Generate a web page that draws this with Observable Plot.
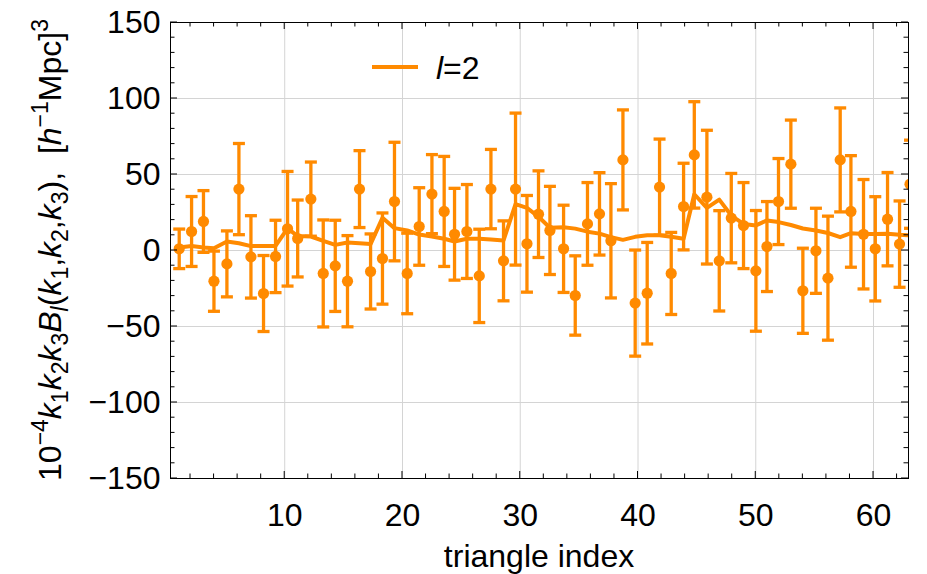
<!DOCTYPE html>
<html><head><meta charset="utf-8">
<script src="https://cdn.jsdelivr.net/npm/d3@7"></script>
<script src="https://cdn.jsdelivr.net/npm/@observablehq/plot@0.6"></script>
<style>
body{margin:0;background:#fff;}
#chart{width:927px;height:574px;}
</style>
</head><body><div id="chart"></div>
<script>
// triangle index positions
const triangleIndex = [1.04,2.09,3.1,3.99,5.09,6.11,7.13,8.2,9.22,10.24,11.1,12.22,13.27,14.29,15.33,16.35,17.29,18.3,19.32,20.4,21.42,22.5,23.54,24.42,25.47,26.52,27.51,28.58,29.6,30.57,31.55,32.52,33.68,34.67,35.71,36.73,37.7,38.72,39.76,40.78,41.83,42.82,43.87,44.78,45.85,46.9,47.92,48.96,50.01,50.95,51.93,52.98,54.0,55.11,56.13,57.17,58.08,59.15,60.15,61.19,62.21,63.1];
// measured bispectrum (l=2) values
const bispectrum = [1.1,12.5,19.1,-20.2,-8.8,40.4,-4.2,-28.3,-3.9,14.3,7.9,33.8,-15.1,-10.1,-20.2,40.4,-13.8,-5.3,32.2,-15.1,15.8,37.1,25.7,10.7,12.5,-16.7,40.4,-6.8,40.4,4.4,23.9,13.2,1.1,-29.6,17.5,24.1,6.4,59.6,-34.6,-28.1,41.7,-15.1,28.9,62.9,35.1,-6.8,21.3,16.4,-13.4,2.6,32.2,56.8,-26.5,-0.2,-18.2,59.6,25.7,10.7,1.1,20.6,4.2,43.6];
// half-length of error bars
const errors = [13,23,20.3,19.8,21.7,30,27.1,25,23.8,37.7,25.3,24.4,35.2,30,30,25.3,24.7,30,39,26.5,25.5,26,36.2,30.2,30.9,30.7,26.1,26.3,50,31.8,28.5,29,28.7,26.1,27.2,27.1,37.6,32.9,34.9,33.4,31.6,27,28.5,35,44,33,29.4,28.3,39.7,29.6,28.3,29,28,28,40.8,34.2,36.7,36,34.3,30.7,28.4,29];
// model curve
const model = [2,2.9,2,1.5,5.9,4.8,2.9,3,3,14.5,9.5,9.2,6.4,3.7,5.3,4.8,4.2,21.5,14.7,13.2,10.5,9.2,7.7,5.9,7.7,7.7,7.2,6.6,30.5,28,22.2,15,15.3,14.4,12.4,11.1,8.8,7,9,10,10,9,7.7,37,28,33.5,23,17.5,16.5,19.8,18.7,16.8,14.5,13.2,11.5,8.8,11.4,10.8,10.8,11,10.3,9.9];

const xTicks = [10,20,30,40,50,60];
const yTicks = [-150,-100,-50,0,50,100,150];
const yGrid = [-100,-50,0,50,100];
const xMinorTicks = [2,4,6,8,12,14,16,18,22,24,26,28,32,34,36,38,42,44,46,48,52,54,56,58,62];
const yMinorTicks = [-140,-130,-120,-110,-90,-80,-70,-60,-40,-30,-20,-10,10,20,30,40,60,70,80,90,110,120,130,140];
const xLabel = "triangle index";
const legendName = "l";
const legendRest = "=2";

const rows = triangleIndex.map((x, i) => ({x, y: bispectrum[i], e: errors[i], m: model[i]}));
const orange = "#ff8a00";
const FONT = "'Liberation Sans', Arial, sans-serif";
const FS = 32;
const capSymbol = {draw(ctx) { ctx.moveTo(-6, 0); ctx.lineTo(6, 0); }};

const plot = Plot.plot({
  width: 927, height: 574,
  marginLeft: 170, marginRight: 19, marginTop: 22, marginBottom: 96,
  style: {fontFamily: FONT, fontSize: FS + "px", color: "#000", background: "#fff"},
  x: {domain: [0.3, 62.97], label: null},
  y: {domain: [-150, 150], label: null},
  marks: [
    Plot.gridX(xTicks, {stroke: "#d4d4d4", strokeOpacity: 1, strokeWidth: 1}),
    Plot.gridY(yGrid, {stroke: "#d4d4d4", strokeOpacity: 1, strokeWidth: 1}),
    Plot.axisX(xTicks, {tickSize: 0, tickPadding: 25, fontSize: FS, anchor: "bottom"}),
    Plot.axisY(yTicks, {tickSize: 0, tickPadding: 10, fontSize: FS, anchor: "left"}),
    Plot.ruleX(rows, {x: "x", y1: d => d.y - d.e, y2: d => d.y + d.e, stroke: orange, strokeWidth: 3.3, clip: true}),
    Plot.dot(rows, {x: "x", y: d => d.y + d.e, symbol: capSymbol, fill: "none", stroke: orange, strokeWidth: 3.3, clip: true}),
    Plot.dot(rows, {x: "x", y: d => d.y - d.e, symbol: capSymbol, fill: "none", stroke: orange, strokeWidth: 3.3, clip: true}),
    Plot.line(rows, {x: "x", y: "m", stroke: orange, strokeWidth: 4, strokeLinejoin: "round", clip: true}),
    Plot.dot(rows, {x: "x", y: "y", r: 5.6, fill: orange, stroke: "none", clip: true}),
    Plot.frame({stroke: "#000", strokeWidth: 1})
  ]
});

document.getElementById("chart").appendChild(plot);

const sx = plot.scale("x"), sy = plot.scale("y");
const svg = d3.select(plot);
const [X0, X1] = sx.range;
const [Y0, Y1] = sy.range; // Y0 bottom, Y1 top
const tg = svg.append("g").attr("stroke", "#000").attr("stroke-width", 1);
function xt(v, len) {
  const px = sx.apply(v);
  tg.append("line").attr("x1", px).attr("x2", px).attr("y1", Y0).attr("y2", Y0 - len);
  tg.append("line").attr("x1", px).attr("x2", px).attr("y1", Y1).attr("y2", Y1 + len);
}
function yt(v, len) {
  const py = sy.apply(v);
  tg.append("line").attr("x1", X0).attr("x2", X0 + len).attr("y1", py).attr("y2", py);
  tg.append("line").attr("x1", X1).attr("x2", X1 - len).attr("y1", py).attr("y2", py);
}
xTicks.forEach(v => xt(v, 7));
xMinorTicks.forEach(v => xt(v, 4.5));
yTicks.forEach(v => yt(v, 7));
yMinorTicks.forEach(v => yt(v, 4.5));

// x-axis title
svg.append("text").attr("x", (X0 + X1) / 2).attr("y", 567)
  .attr("text-anchor", "middle").attr("font-family", FONT).attr("font-size", FS).attr("fill", "#000")
  .text(xLabel);

// y-axis title with sub/superscripts
const parts = [
  ["10", 0, 0], ["\u22124", 0, 1], ["k", 1, 0], ["1", 0, -1], ["k", 1, 0], ["2", 0, -1], ["k", 1, 0], ["3", 0, -1],
  ["B", 1, 0], ["l", 1, -1], ["(", 0, 0], ["k", 1, 0], ["1", 0, -1], [",", 0, 0], ["k", 1, 0], ["2", 0, -1], [",", 0, 0],
  ["k", 1, 0], ["3", 0, -1], ["),\u00a0\u00a0[", 0, 0], ["h", 1, 0], ["\u22121", 0, 1], ["Mpc]", 0, 0], ["3", 0, 1]
];
const yl = svg.append("text").attr("transform", `translate(61,${(Y0 + Y1) / 2}) rotate(-90)`)
  .attr("text-anchor", "middle").attr("font-family", FONT).attr("font-size", FS).attr("fill", "#000");
let cur = 0;
const shiftPx = {"1": -13, "0": 0, "-1": 7};
parts.forEach(([t, it, s]) => {
  const target = shiftPx[String(s)];
  const ts = yl.append("tspan").text(t).attr("dy", target - cur);
  if (it) ts.attr("font-style", "italic");
  if (s !== 0) ts.attr("font-size", 23);
  cur = target;
});

// legend
svg.append("line").attr("x1", 372).attr("x2", 418).attr("y1", 67).attr("y2", 67)
  .attr("stroke", orange).attr("stroke-width", 4);
const lt = svg.append("text").attr("x", 436).attr("y", 79).attr("text-anchor", "start")
  .attr("font-family", FONT).attr("font-size", FS).attr("fill", "#000");
lt.append("tspan").attr("font-style", "italic").text(legendName);
lt.append("tspan").text(legendRest);
</script>
</body></html>
